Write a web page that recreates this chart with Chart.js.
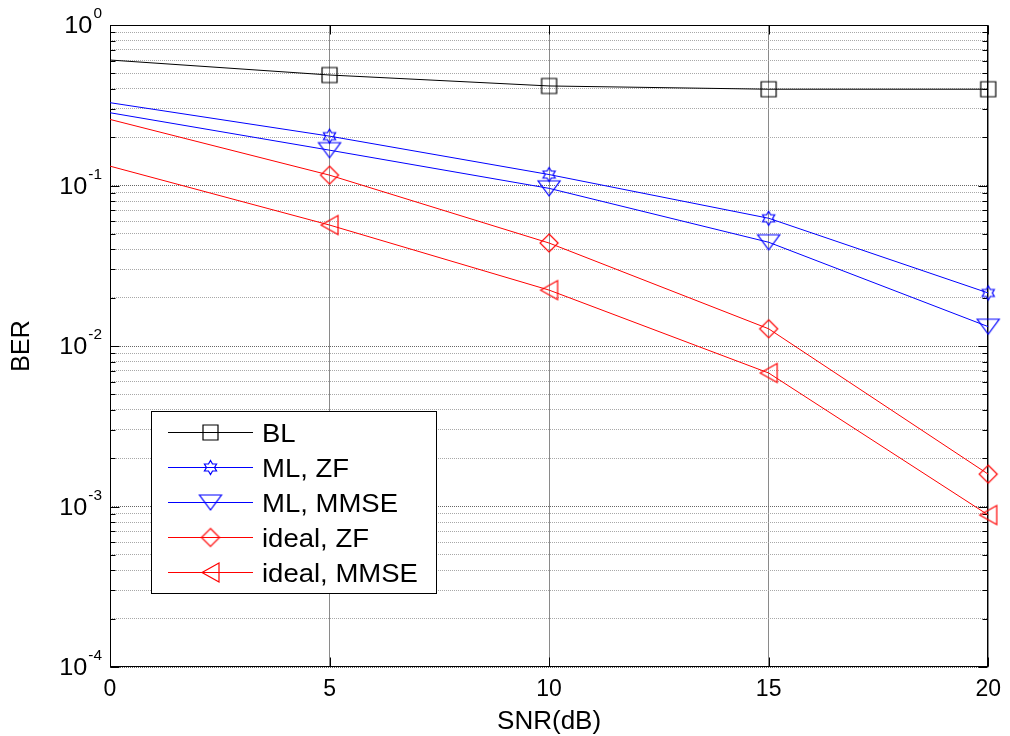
<!DOCTYPE html>
<html>
<head>
<meta charset="utf-8">
<script src="https://cdn.jsdelivr.net/npm/chart.js@4.4.1/dist/chart.umd.min.js"></script>
<style>
  html, body { margin: 0; padding: 0; background: #ffffff; }
  canvas { display: block; }
</style>
</head>
<body>
<canvas id="berChart" width="1010" height="736"></canvas>
<script>
// SNR sweep (dB) and measured bit error rates
const snr = [0, 5, 10, 15, 20];
const berBL = [0.605, 0.488, 0.417, 0.398, 0.398];
const berMLZF = [0.328, 0.203, 0.117, 0.0625, 0.0214];
const berMLMMSE = [0.284, 0.166, 0.096, 0.0443, 0.0132];
const berIdealZF = [0.258, 0.116, 0.0438, 0.0128, 0.00159];
const berIdealMMSE = [0.132, 0.0567, 0.0223, 0.00679, 0.000885];
const seriesNames = ['BL', 'ML, ZF', 'ML, MMSE', 'ideal, ZF', 'ideal, MMSE'];

// axis ticks
const xTicks = [0, 5, 10, 15, 20];
const yDecades = [1e-4, 1e-3, 1e-2, 1e-1, 1];
const yExponents = ['-4', '-3', '-2', '-1', '0'];
const yMantissas = [1, 2, 3, 4, 5, 6, 7, 8, 9];

const FONT = "'Liberation Sans', Arial, Helvetica, sans-serif";
const TEXT_STRETCH = 1.1; // glyphs are set slightly wide

// log-axis tick values: every mantissa within each decade
const yTickValues = [];
yDecades.forEach((d, i) => {
  if (i === yDecades.length - 1) { yTickValues.push(d); return; }
  yMantissas.forEach(m => yTickValues.push(+(m * d).toPrecision(3)));
});

// hollow marker glyphs, drawn once and reused as point styles
function makeMarker(color, w, h, path) {
  const pad = 2;
  const c = document.createElement('canvas');
  c.width = Math.ceil(w) + 2 * pad;
  c.height = Math.ceil(h) + 2 * pad;
  const g = c.getContext('2d');
  g.translate(c.width / 2, c.height / 2);
  g.strokeStyle = color;
  g.lineWidth = 1.2;
  g.beginPath();
  path(g);
  g.closePath();
  g.stroke();
  return c;
}

const mkSquare = makeMarker('#000000', 15, 15, g => { g.rect(-7.5, -7.5, 15, 15); });
const mkHexagram = makeMarker('#0000ff', 13, 15, g => {
  const R = 7, r = R / Math.sqrt(3);
  for (let k = 0; k < 12; k++) {
    const a = -Math.PI / 2 + k * Math.PI / 6;
    const rad = k % 2 === 0 ? R : r;
    const px = Math.cos(a) * rad, py = Math.sin(a) * rad;
    if (k === 0) g.moveTo(px, py); else g.lineTo(px, py);
  }
});
const mkTriDown = makeMarker('#0000ff', 22, 15, g => {
  g.moveTo(-11, -7.5); g.lineTo(11, -7.5); g.lineTo(0, 7.5);
});
const mkDiamond = makeMarker('#ff0000', 18, 18, g => {
  g.moveTo(0, -9); g.lineTo(9, 0); g.lineTo(0, 9); g.lineTo(-9, 0);
});
const mkTriLeft = makeMarker('#ff0000', 17, 19, g => {
  g.moveTo(-8.5, 0); g.lineTo(8.5, -9.5); g.lineTo(8.5, 9.5);
});

function series(label, values, color, marker) {
  return {
    label: label,
    data: snr.map((x, i) => ({ x: x, y: values[i] })),
    borderColor: color,
    backgroundColor: color,
    borderWidth: 1,
    pointStyle: marker,
    // the 0 dB sample is joined by the line but carries no marker
    pointRadius: c => (c.dataIndex === 0 ? 0 : 9),
    pointHoverRadius: c => (c.dataIndex === 0 ? 0 : 9),
    fill: false,
    tension: 0,
    clip: false
  };
}

function wideText(ctx, text, x, y) {
  ctx.save();
  ctx.translate(x, y);
  ctx.scale(TEXT_STRETCH, 1);
  ctx.fillText(text, 0, 0);
  ctx.restore();
  return ctx.measureText(text).width * TEXT_STRETCH;
}

// frame, inward tick marks, superscript decade labels and the boxed legend
const matlabAxes = {
  id: 'matlabAxes',
  beforeDatasetsDraw(chart) {
    const { ctx, chartArea: a, scales: { x, y } } = chart;
    const L = Math.round(a.left) + 0.5, R = Math.round(a.right) - 0.5;
    const T = Math.round(a.top) + 0.5, B = Math.round(a.bottom) - 0.5;
    ctx.save();
    ctx.strokeStyle = '#000000';
    ctx.lineWidth = 1;
    ctx.beginPath();
    y.ticks.forEach(t => {
      const py = Math.round(y.getPixelForValue(t.value)) + 0.5;
      const len = t.major ? 9 : 5;
      ctx.moveTo(L, py); ctx.lineTo(L + len, py);
      ctx.moveTo(R, py); ctx.lineTo(R - len, py);
    });
    x.ticks.forEach(t => {
      const px = Math.round(x.getPixelForValue(t.value)) + 0.5;
      ctx.moveTo(px, B); ctx.lineTo(px, B - 9);
      ctx.moveTo(px, T); ctx.lineTo(px, T + 9);
    });
    ctx.stroke();
    ctx.strokeRect(L, T, R - L, B - T);
    ctx.restore();
  },
  afterDatasetsDraw(chart) {
    const { ctx, scales: { y } } = chart;
    ctx.save();
    ctx.fillStyle = '#000000';
    ctx.textAlign = 'left';
    // decade labels 10^n
    yDecades.forEach((d, i) => {
      const py = y.getPixelForValue(d);
      ctx.font = '23px ' + FONT;
      const wBase = ctx.measureText('10').width * TEXT_STRETCH;
      ctx.font = '14px ' + FONT;
      const wExp = ctx.measureText(yExponents[i]).width * TEXT_STRETCH;
      const x0 = 102 - wBase - wExp - 1;
      ctx.font = '23px ' + FONT;
      ctx.textBaseline = 'middle';
      wideText(ctx, '10', x0, py + 2);
      ctx.font = '14px ' + FONT;
      ctx.textBaseline = 'alphabetic';
      wideText(ctx, yExponents[i], x0 + wBase + 1, py - 7);
    });

    // legend box
    const bx = 151.5, by = 411.5, bw = 285, bh = 182;
    ctx.fillStyle = '#ffffff';
    ctx.fillRect(bx, by, bw, bh);
    ctx.strokeStyle = '#000000';
    ctx.lineWidth = 1;
    ctx.strokeRect(bx, by, bw, bh);
    chart.data.datasets.forEach((ds, i) => {
      const ry = 432 + i * 35;
      ctx.strokeStyle = ds.borderColor;
      ctx.lineWidth = 1;
      ctx.beginPath();
      ctx.moveTo(168, ry + 0.5);
      ctx.lineTo(253, ry + 0.5);
      ctx.stroke();
      const m = ds.pointStyle;
      ctx.drawImage(m, 210.5 - m.width / 2, ry + 0.5 - m.height / 2);
      ctx.fillStyle = '#000000';
      ctx.font = '25px ' + FONT;
      ctx.textBaseline = 'alphabetic';
      wideText(ctx, ds.label, 262, ry + 10);
    });
    ctx.restore();
  }
};

new Chart(document.getElementById('berChart'), {
  type: 'line',
  data: {
    datasets: [
      series(seriesNames[0], berBL, '#000000', mkSquare),
      series(seriesNames[1], berMLZF, '#0000ff', mkHexagram),
      series(seriesNames[2], berMLMMSE, '#0000ff', mkTriDown),
      series(seriesNames[3], berIdealZF, '#ff0000', mkDiamond),
      series(seriesNames[4], berIdealMMSE, '#ff0000', mkTriLeft)
    ]
  },
  options: {
    responsive: false,
    animation: false,
    devicePixelRatio: 1,
    layout: { padding: { left: 0, right: 18, top: 25, bottom: 0 } },
    plugins: {
      legend: { display: false },
      tooltip: { enabled: false }
    },
    scales: {
      x: {
        type: 'linear',
        min: 0,
        max: 20,
        afterBuildTicks: s => { s.ticks = xTicks.map(v => ({ value: v })); },
        afterFit: s => { s.height = 69; },
        grid: { color: '#8a8a8a', lineWidth: 1, drawTicks: false },
        border: { display: false },
        ticks: { font: { family: FONT, size: 23 }, color: '#000000', padding: 9, maxRotation: 0 },
        title: {
          display: true, text: 'SNR(dB)', color: '#000000',
          font: { family: FONT, size: 26, lineHeight: 1 },
          padding: { top: 0, bottom: 1 }
        }
      },
      y: {
        type: 'logarithmic',
        min: 1e-4,
        max: 1,
        afterBuildTicks: s => {
          s.ticks = yTickValues.map(v => ({ value: v, major: yDecades.includes(v) }));
        },
        afterFit: s => { s.width = 110; },
        grid: {
          color: c => (c.tick && c.tick.major ? '#666666' : '#a8a8a8'),
          lineWidth: 1,
          drawTicks: false
        },
        border: { display: false, dash: [1, 1] },
        ticks: { display: false },
        title: {
          display: true, text: 'BER', color: '#000000',
          font: { family: FONT, size: 25, lineHeight: 1 },
          padding: { top: 10, bottom: 0 }
        }
      }
    }
  },
  plugins: [matlabAxes]
});
</script>
</body>
</html>
